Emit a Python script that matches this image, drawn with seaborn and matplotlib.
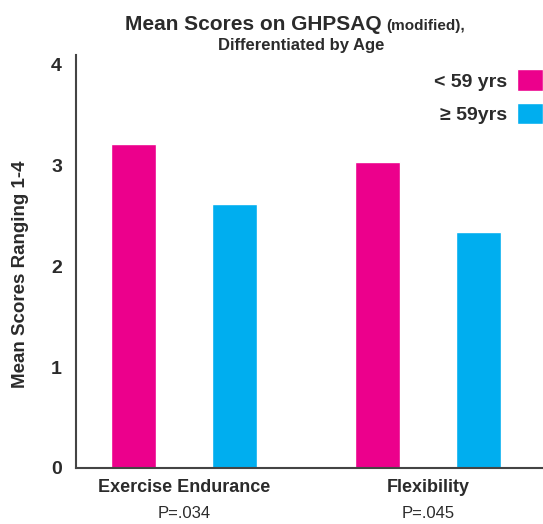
import pandas as pd
import matplotlib.pyplot as plt
import seaborn as sns

# values
measures = ["Exercise Endurance", "Flexibility"]
p_values = ["P=.034", "P=.045"]
age_groups = ["< 59 yrs", "\u2265 59yrs"]
young_scores = [3.21, 3.03]
old_scores = [2.61, 2.34]
yticks = [0, 1, 2, 3, 4]

df = pd.DataFrame({
    "Measure": measures * 2,
    "Age": [age_groups[0]] * 2 + [age_groups[1]] * 2,
    "Score": young_scores + old_scores,
})

sns.set_theme(style="white")
plt.rcParams["font.family"] = ["Liberation Sans", "DejaVu Sans"]
plt.rcParams["font.weight"] = "bold"
text_col = "#2b2b2b"

fig = plt.figure(figsize=(5.43, 5.24), dpi=100)
ax = fig.add_axes([76 / 543, 56 / 524, 1 - 76 / 543, (468 - 55) / 524])

sns.barplot(data=df, x="Measure", y="Score", hue="Age", order=measures,
            hue_order=age_groups, palette=["#EC008C", "#00AEEF"],
            width=0.83, gap=0.55, saturation=1, ax=ax)

ax.set_ylim(0, 4.09)
ax.set_xlim(-0.443, 1.471)
ax.set_yticks(yticks)
ax.set_yticklabels([str(t) for t in yticks], fontsize=14, color=text_col)
ax.set_xticks([0, 1])
ax.set_xticklabels(measures, fontsize=13, color=text_col)
ax.tick_params(length=0, pad=10)
ax.tick_params(axis="x", pad=8)
ax.set_xlabel("")
ax.set_ylabel("Mean Scores Ranging 1-4", fontsize=13.5, fontweight="bold",
              color=text_col)
ax.yaxis.set_label_coords(-0.1, 0.47)

for i, p in enumerate(p_values):
    ax.text(i, -0.45, p, ha="center", va="center", fontsize=12,
            fontweight="normal", color=text_col)

for side in ["top", "right"]:
    ax.spines[side].set_visible(False)
for side in ["left", "bottom"]:
    ax.spines[side].set_color("#444444")
    ax.spines[side].set_linewidth(1.5)

leg = ax.legend(loc="upper right", bbox_to_anchor=(1.0, 0.965), frameon=False,
                markerfirst=False, fontsize=14, handlelength=1.35,
                handleheight=1.3, handletextpad=0.5, labelspacing=0.65,
                borderaxespad=0, borderpad=0)
for t in leg.get_texts():
    t.set_color(text_col)

# title in two sizes
fig.text(382 / 543, 1 - 30 / 524, "Mean Scores on GHPSAQ", ha="right",
         va="baseline", fontsize=15, color=text_col)
fig.text(386 / 543, 1 - 30 / 524, "(modified),", ha="left",
         va="baseline", fontsize=11, color=text_col)
fig.text(301 / 543, 1 - 50 / 524, "Differentiated by Age", ha="center",
         va="baseline", fontsize=12, color=text_col)

fig.savefig("out.png", dpi=100)
